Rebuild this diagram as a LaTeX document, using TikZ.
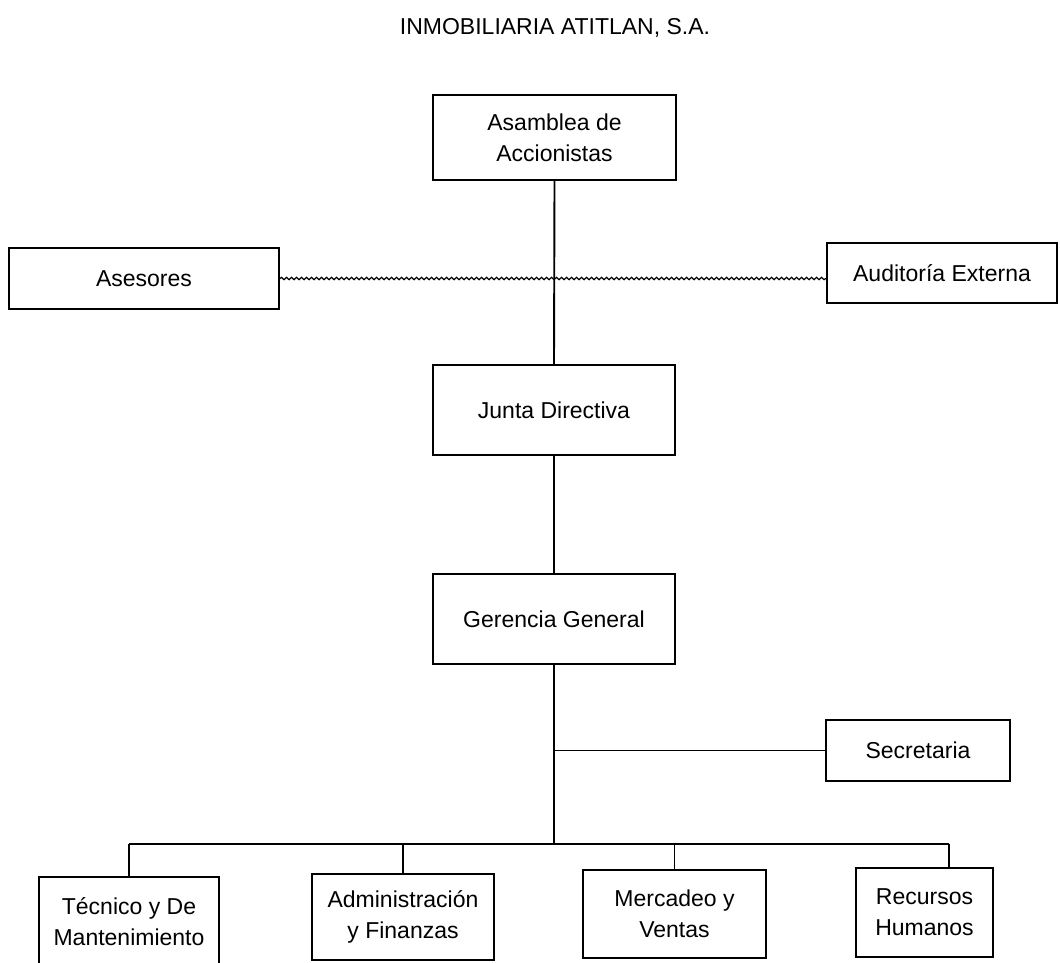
\documentclass[tikz,border=0pt]{standalone}
\usepackage{fontspec}
\setmainfont{Liberation Sans}
\usetikzlibrary{decorations.pathmorphing}

\begin{document}
\begin{tikzpicture}[x=1pt, y=-1pt,
        orgbox/.style={draw, line width=2pt, align=center, inner sep=0pt,
            font=\fontsize{23}{31}\selectfont},
        link/.style={line width=1.9pt},
        wavy/.style={line width=1.2pt, decorate,
            decoration={snake, amplitude=1.2pt, segment length=5pt}}]
    \clip (0,0) rectangle (1060,962);
    \node (title) at (555,28) {\fontsize{23}{28}\selectfont INMOBILIARIA ATITLAN, S.A.};

    % top of the chart
    \node[orgbox, minimum width=243pt, minimum height=85pt] (asamblea) at (554.5,137.5) {Asamblea de\\Accionistas};
    \node[orgbox, minimum width=270pt, minimum height=61pt] (asesores) at (144,278.5) {Asesores};
    \node[orgbox, minimum width=230pt, minimum height=60pt] (auditoria) at (942,273) {Auditoría Externa};
    \node[orgbox, minimum width=242pt, minimum height=90pt] (junta) at (554,410) {Junta Directiva};
    \node[orgbox, minimum width=242pt, minimum height=90pt] (gerencia) at (554,619) {Gerencia General};
    \node[orgbox, minimum width=184pt, minimum height=61pt] (secretaria) at (918,750.5) {Secretaria};

    % departments
    \node[orgbox, minimum width=180pt, minimum height=90pt] (tecnico) at (129,922) {Técnico y De\\Mantenimiento};
    \node[orgbox, minimum width=182pt, minimum height=86pt] (admin) at (403,917) {Administración\\y Finanzas};
    \node[orgbox, minimum width=183pt, minimum height=88pt] (mercadeo) at (674.5,914) {Mercadeo y\\Ventas};
    \node[orgbox, minimum width=137pt, minimum height=89pt] (recursos) at (924.5,912.5) {Recursos\\Humanos};

    \coordinate (busL) at (129,844);
    \coordinate (busR) at (949,844);
    \coordinate (secJoin) at (gerencia.south |- secretaria.west);

    \draw[link] (asamblea.south) -- (junta.north);
    \draw[wavy] (asesores.east) -- (asesores.east -| auditoria.west);
    \draw[link] (junta.south) -- (gerencia.north);
    \draw[link] (gerencia.south) -- (gerencia.south |- busL);
    \draw[link] (secJoin) -- (secretaria.west);
    \draw[link] (busL) -- (busR);
    \draw[link] (busL) -- (tecnico.north);
    \draw[link] (admin.north |- busL) -- (admin.north);
    \draw[link] (mercadeo.north |- busL) -- (mercadeo.north);
    \draw[link] (busR) -- (busR |- recursos.north);
\end{tikzpicture}
\end{document}
